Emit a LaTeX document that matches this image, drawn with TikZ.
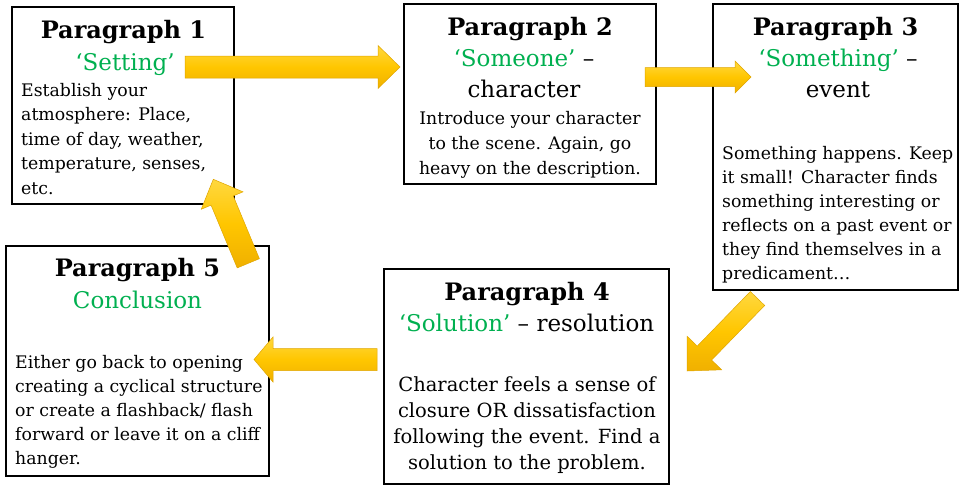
\documentclass[tikz,border=0pt]{standalone}
\usepackage{fontspec}
\setmainfont{DejaVu Serif}
\usetikzlibrary{calc}
\definecolor{pgreen}{HTML}{00B050}
\definecolor{agold}{HTML}{FFC600}
\definecolor{alight}{HTML}{FFD83F}
\definecolor{adark}{HTML}{F0B000}
\definecolor{aedge}{HTML}{E0A600}
\newcommand\blk[2]{\begin{tabular}[t]{@{}#1@{}}#2\end{tabular}}
% #1 start, #2 end, #3 shaft half width, #4 head half width, #5 head length
\newcommand\goldarrowpath[5]{%
  \coordinate (#1hb) at ($(#2)!#5pt!(#1)$);
  \path[goldarrow] ($(#1)!#3pt!90:(#2)$) -- ($(#1hb)!#3pt!90:(#2)$) -- ($(#1hb)!#4pt!90:(#2)$) -- (#2)
    -- ($(#1hb)!#4pt!-90:(#2)$) -- ($(#1hb)!#3pt!-90:(#2)$) -- ($(#1)!#3pt!-90:(#2)$) -- cycle;}
\tikzset{
  box/.style={draw=black, line width=1.5pt, fill=white, inner sep=0pt},
  hdr/.style={font=\fontsize{24}{28}\selectfont\bfseries, inner sep=0pt, anchor=base},
  sub/.style={font=\fontsize{23}{31}\selectfont, inner sep=0pt, anchor=base},
  bodytxt/.style={font=\fontsize{17.3}{24.5}\selectfont, inner sep=0pt},
  goldarrow/.style={draw=aedge, line width=0.5pt, top color=alight, bottom color=adark, middle color=agold}
}
\begin{document}
\begin{tikzpicture}[x=1pt,y=-1pt]
\useasboundingbox[fill=white] (0,0) rectangle (962,485);
% boxes
\node[box, minimum width=222pt, minimum height=197pt] (p1) at (123,105.5) {};
\node[box, minimum width=252pt, minimum height=180pt] (p2) at (530,94) {};
\node[box, minimum width=245pt, minimum height=286pt] (p3) at (835.5,147) {};
\node[box, minimum width=285pt, minimum height=215pt] (p4) at (526.5,376.5) {};
\node[box, minimum width=263pt, minimum height=230pt] (p5) at (137.5,361) {};
% box 1
\node[hdr] (h1) at (123.5,38) {Paragraph 1};
\node[sub, text=pgreen] (s1) at (125,70) {‘Setting’};
\node[bodytxt, anchor=base west] (b1) at (21,96) {\blk{l}{Establish your\\atmosphere: Place,\\time of day, weather,\\temperature, senses,\\etc.}};
% box 2
\node[hdr] (h2) at (530,35) {Paragraph 2};
\node[sub] (s2) at (524,66) {\blk{c}{\textcolor{pgreen}{‘Someone’} –\\character}};
\node[bodytxt, anchor=base, font=\fontsize{17.3}{25}\selectfont] (b2) at (530,124) {\blk{c}{Introduce your character\\to the scene. Again, go\\heavy on the description.}};
% box 3
\node[hdr] (h3) at (835.5,35) {Paragraph 3};
\node[sub] (s3) at (838,66) {\blk{c}{\textcolor{pgreen}{‘Something’} –\\event}};
\node[bodytxt, anchor=base west, font=\fontsize{17.3}{24}\selectfont] (b3) at (722,159) {\blk{l}{Something happens. Keep\\it small! Character finds\\something interesting or\\reflects on a past event or\\they find themselves in a\\predicament…}};
% box 4
\node[hdr] (h4) at (527,300) {Paragraph 4};
\node[sub] (s4) at (526.5,331) {\textcolor{pgreen}{‘Solution’} – resolution};
\node[bodytxt, anchor=base, font=\fontsize{19.5}{26}\selectfont] (b4) at (527,391) {\blk{c}{Character feels a sense of\\closure OR dissatisfaction\\following the event. Find a\\solution to the problem.}};
% box 5
\node[hdr] (h5) at (137.5,276) {Paragraph 5};
\node[sub, text=pgreen] (s5) at (137.5,308) {Conclusion};
\node[bodytxt, anchor=base west, font=\fontsize{17.3}{24}\selectfont] (b5) at (15,368) {\blk{l}{Either go back to opening\\creating a cyclical structure\\or create a flashback/ flash\\forward or leave it on a cliff\\hanger.}};
% arrows
\coordinate (a1s) at (185,67);   \coordinate (a1e) at (400,67);
\coordinate (a2s) at (645,77);   \coordinate (a2e) at (751,77);
\coordinate (a3s) at (757.5,298.5); \coordinate (a3e) at (687,371);
\coordinate (a4s) at (377,359.5); \coordinate (a4e) at (254,359.5);
\coordinate (a5s) at (248.3,263.3); \coordinate (a5e) at (213.3,179.3);
\goldarrowpath{a1s}{a1e}{11}{21.5}{22}
\goldarrowpath{a2s}{a2e}{9.5}{16}{16}
\goldarrowpath{a3s}{a3e}{10}{24}{25}
\goldarrowpath{a4s}{a4e}{11}{22.5}{19}
\goldarrowpath{a5s}{a5e}{12}{22.6}{23}
\end{tikzpicture}
\end{document}
